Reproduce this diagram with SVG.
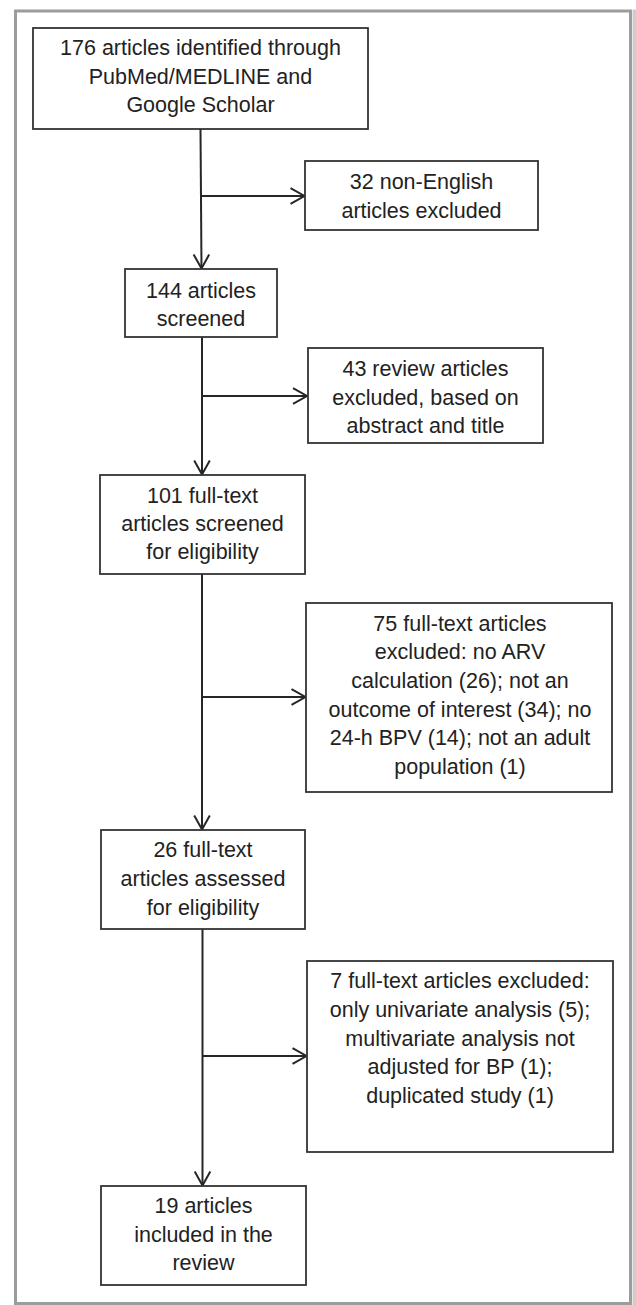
<svg xmlns="http://www.w3.org/2000/svg" width="636" height="1305" viewBox="0 0 636 1305">
<style>
.box{fill:#fff;stroke:#333;stroke-width:1.8}
.t{font-family:"Liberation Sans",Arial,sans-serif;font-size:21.5px;fill:#222;text-anchor:middle}
.c{fill:none;stroke:#262626;stroke-width:2}
</style>
<defs>
<marker id="ah" markerUnits="userSpaceOnUse" markerWidth="18" markerHeight="20" refX="15" refY="9" orient="auto">
<path d="M1,1.2 L15,9 L1,16.8" fill="none" stroke="#262626" stroke-width="2"/>
</marker>
</defs>
<rect x="0" y="0" width="636" height="1305" fill="#fff"/>
<rect x="15.5" y="11" width="615" height="1292.5" fill="none" stroke="#9c9c9c" stroke-width="3"/>
<rect x="632.5" y="9.5" width="3.5" height="1295.5" fill="#d2cbcb"/>
<g id="connectors">
<line class="c" x1="200.5" y1="129" x2="201.5" y2="268.5" marker-end="url(#ah)"/>
<line class="c" x1="201" y1="196" x2="304.5" y2="196" marker-end="url(#ah)"/>
<line class="c" x1="202" y1="337" x2="202" y2="474.5" marker-end="url(#ah)"/>
<line class="c" x1="202" y1="396" x2="307" y2="396" marker-end="url(#ah)"/>
<line class="c" x1="202" y1="574" x2="202" y2="829.5" marker-end="url(#ah)"/>
<line class="c" x1="202" y1="697" x2="305.5" y2="697" marker-end="url(#ah)"/>
<line class="c" x1="202.5" y1="929" x2="202.5" y2="1185.5" marker-end="url(#ah)"/>
<line class="c" x1="202.5" y1="1056" x2="306.5" y2="1056" marker-end="url(#ah)"/>
</g>
<g id="n1">
<rect class="box" x="33" y="28" width="335" height="101"/>
<text class="t" x="200.5" y="55">176 articles identified through</text>
<text class="t" x="200.5" y="83.5">PubMed/MEDLINE and</text>
<text class="t" x="200.5" y="112">Google Scholar</text>
</g>
<g id="n2">
<rect class="box" x="305" y="161" width="233" height="69"/>
<text class="t" x="421.5" y="189">32 non-English</text>
<text class="t" x="421.5" y="217.7">articles excluded</text>
</g>
<g id="n3">
<rect class="box" x="125" y="269" width="152" height="68"/>
<text class="t" x="201" y="297.7">144 articles</text>
<text class="t" x="201" y="326">screened</text>
</g>
<g id="n4">
<rect class="box" x="308" y="348" width="235" height="95"/>
<text class="t" x="425.5" y="376">43 review articles</text>
<text class="t" x="425.5" y="405">excluded, based on</text>
<text class="t" x="425.5" y="433.3">abstract and title</text>
</g>
<g id="n5">
<rect class="box" x="100" y="475" width="205" height="99"/>
<text class="t" x="202.5" y="502.7">101 full-text</text>
<text class="t" x="202.5" y="530.7">articles screened</text>
<text class="t" x="202.5" y="559.3">for eligibility</text>
</g>
<g id="n6">
<rect class="box" x="306" y="603" width="306" height="189"/>
<text class="t" x="460" y="630.7">75 full-text articles</text>
<text class="t" x="460" y="659.3">excluded: no ARV</text>
<text class="t" x="460" y="687.9">calculation (26); not an</text>
<text class="t" x="460" y="716.5">outcome of interest (34); no</text>
<text class="t" x="460" y="745.1">24-h BPV (14); not an adult</text>
<text class="t" x="460" y="773.7">population (1)</text>
</g>
<g id="n7">
<rect class="box" x="101" y="830" width="204" height="99"/>
<text class="t" x="203" y="857.3">26 full-text</text>
<text class="t" x="203" y="886">articles assessed</text>
<text class="t" x="203" y="915">for eligibility</text>
</g>
<g id="n8">
<rect class="box" x="307" y="961" width="306" height="191"/>
<text class="t" x="460" y="988.3">7 full-text articles excluded:</text>
<text class="t" x="460" y="1016.9">only univariate analysis (5);</text>
<text class="t" x="460" y="1045.5">multivariate analysis not</text>
<text class="t" x="460" y="1074.1">adjusted for BP (1);</text>
<text class="t" x="460" y="1102.7">duplicated study (1)</text>
</g>
<g id="n9">
<rect class="box" x="101" y="1186" width="205" height="99"/>
<text class="t" x="203.5" y="1213.3">19 articles</text>
<text class="t" x="203.5" y="1241.7">included in the</text>
<text class="t" x="203.5" y="1270">review</text>
</g>
</svg>
